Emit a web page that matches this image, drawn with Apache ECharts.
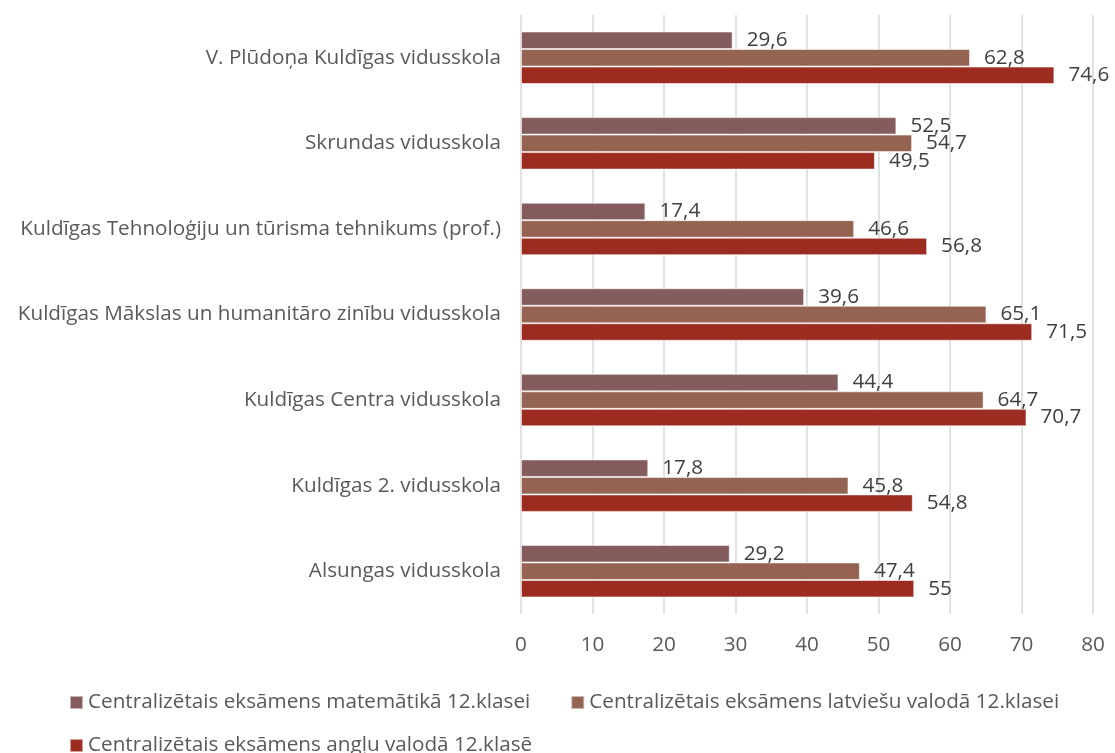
<!DOCTYPE html>
<html>
<head>
<meta charset="utf-8">
<script src="https://cdn.jsdelivr.net/npm/echarts@6/dist/echarts.min.js"></script>
<style>
  html, body { margin: 0; padding: 0; background: #fff; }
  #chart { width: 1115px; height: 753px; }
</style>
</head>
<body>
<div id="chart"></div>
<script>
// categories, bottom to top as drawn
const schools = [
  'Alsungas vidusskola',
  'Kuldīgas 2. vidusskola',
  'Kuldīgas Centra vidusskola',
  'Kuldīgas Mākslas un humanitāro zinību vidusskola',
  'Kuldīgas Tehnoloģiju un tūrisma tehnikums (prof.)',
  'Skrundas vidusskola',
  'V. Plūdoņa Kuldīgas vidusskola'
];
const seriesNames = [
  'Centralizētais eksāmens matemātikā 12.klasei',
  'Centralizētais eksāmens latviešu valodā 12.klasei',
  'Centralizētais eksāmens angļu valodā 12.klasē'
];
const mathVals = [29.2, 17.8, 44.4, 39.6, 17.4, 52.5, 29.6];
const latvVals = [47.4, 45.8, 64.7, 65.1, 46.6, 54.7, 62.8];
const englVals = [55, 54.8, 70.7, 71.5, 56.8, 49.5, 74.6];
const xTicks = [0, 80, 10];

const colors = ['#845C5E', '#956352', '#9C2B20'];
const font = 'Open Sans';
const fs = 20.7;

function bar(name, data, color) {
  return {
    name: name,
    type: 'bar',
    data: data,
    barWidth: 17.5,
    barGap: '0%',
    itemStyle: {
      color: color,
      borderColor: 'rgba(255,255,255,0.55)',
      borderWidth: 1
    },
    label: {
      show: true,
      position: 'right',
      distance: 14,
      color: '#404040',
      fontFamily: font,
      fontSize: fs,
      formatter: function (p) {
        return String(p.value).replace('.', ',');
      }
    }
  };
}

const legendBase = {
  itemWidth: 13,
  itemHeight: 13,
  itemGap: 40,
  icon: 'rect',
  textStyle: { color: '#595959', fontSize: fs, fontFamily: font }
};

const chart = echarts.init(document.getElementById('chart'));
chart.setOption({
  animation: false,
  textStyle: { fontFamily: font },
  grid: {
    left: 521,
    right: 22,
    top: 15,
    height: 599
  },
  legend: [
    Object.assign({ data: seriesNames.slice(0, 2), left: 64, top: 687 }, legendBase),
    Object.assign({ data: seriesNames.slice(2), left: 64, top: 730 }, legendBase)
  ],
  xAxis: {
    type: 'value',
    min: xTicks[0],
    max: xTicks[1],
    interval: xTicks[2],
    axisLine: { show: false },
    axisTick: { show: false },
    splitLine: { lineStyle: { color: '#d9d9d9', width: 1.5 } },
    axisLabel: { color: '#595959', fontSize: fs, fontFamily: font, margin: 21 }
  },
  yAxis: {
    type: 'category',
    data: schools,
    axisLine: { show: false },
    axisTick: { show: false },
    axisLabel: { color: '#595959', fontSize: fs, fontFamily: font, margin: 20 }
  },
  // first series sits on top inside each group
  series: [
    bar(seriesNames[0], mathVals, colors[0]),
    bar(seriesNames[1], latvVals, colors[1]),
    bar(seriesNames[2], englVals, colors[2])
  ]
});
</script>
</body>
</html>
